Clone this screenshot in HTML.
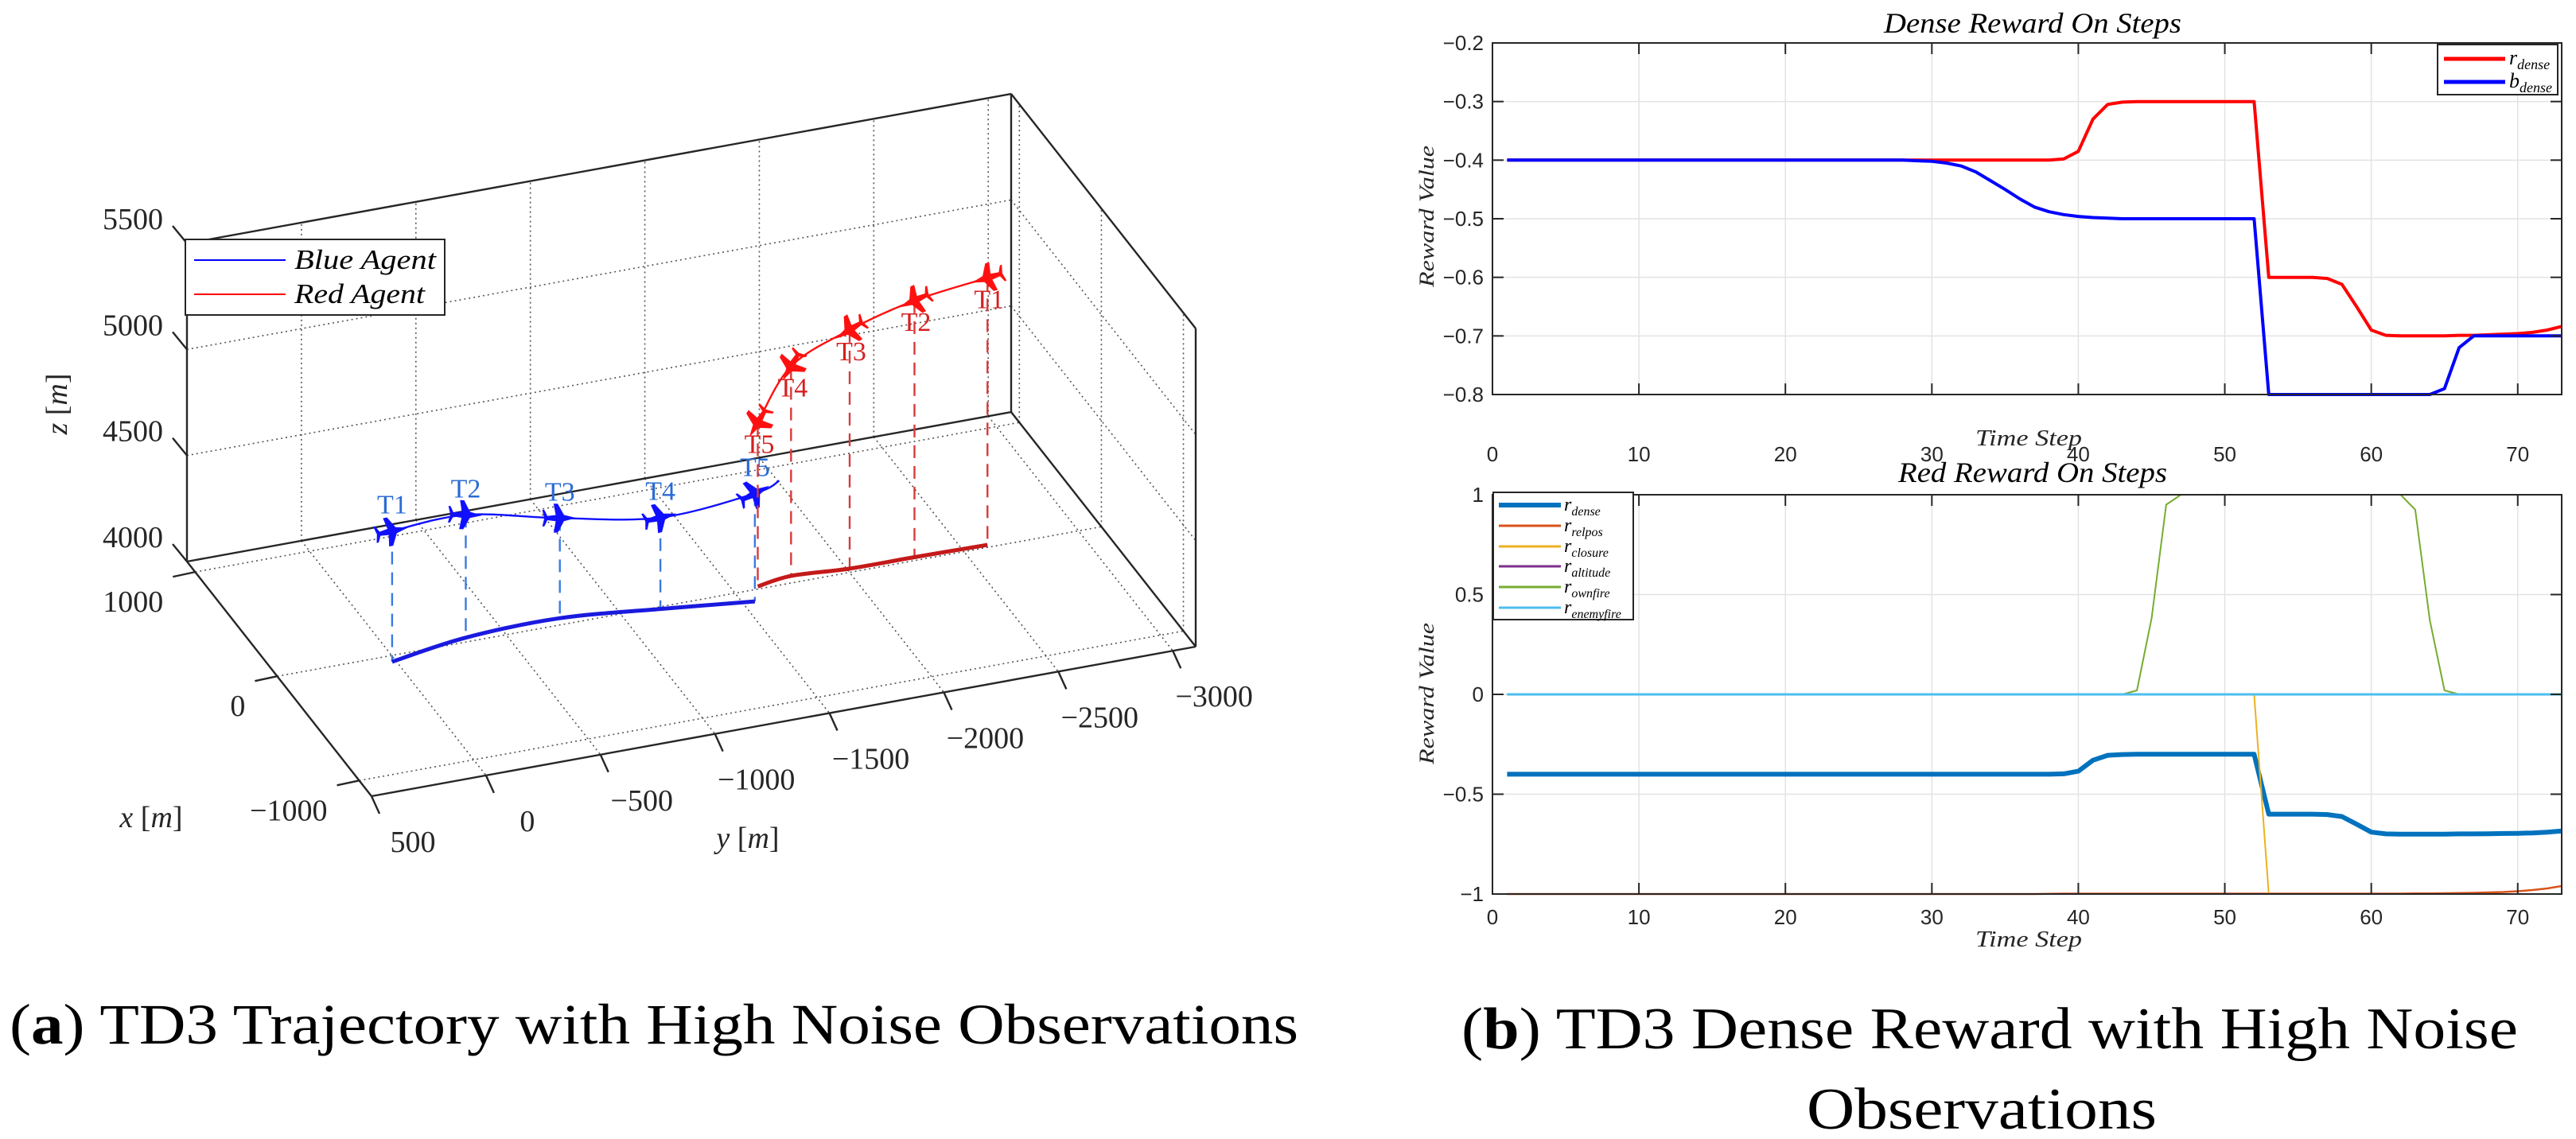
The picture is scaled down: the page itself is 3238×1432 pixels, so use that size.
<!DOCTYPE html>
<html><head><meta charset="utf-8">
<style>
html,body{margin:0;padding:0;background:#fff;}
svg{display:block;}
text{font-family:"Liberation Sans",sans-serif;}
.serif{font-family:"Liberation Serif",serif;}
.it{font-family:"Liberation Serif",serif;font-style:italic;}
</style></head>
<body>
<svg id="fig" xmlns="http://www.w3.org/2000/svg" width="3238" height="1432" viewBox="0 0 3238 1432">
<rect x="0" y="0" width="3238" height="1432" fill="#fff"/>
<g id="plot3d"></g>
<g id="topchart"></g>
<g id="botchart"></g>
<text class="serif" x="12" y="1312" font-size="72" textLength="1620" lengthAdjust="spacingAndGlyphs" fill="#000">(<tspan font-weight="bold">a</tspan>) TD3 Trajectory with High Noise Observations</text>
<text class="serif" x="1837" y="1318" font-size="74" textLength="1328" lengthAdjust="spacingAndGlyphs" fill="#000">(<tspan font-weight="bold">b</tspan>) TD3 Dense Reward with High Noise</text>
<text class="serif" x="2271" y="1419" font-size="74" textLength="440" lengthAdjust="spacingAndGlyphs" fill="#000">Observations</text>
</svg>
<script>
// ===== Data: 3D trajectory (meters) =====
const blueLabels = ['T1','T2','T3','T4','T5'];
const blueX = [-53, 37, 57, -19, -99];
const blueY = [17, -337, -755, -1167, -1551];
const blueZ = [4616, 4579, 4472, 4431, 4509];
const blueEndX = [-120];
const blueEndY = [-1650];
const blueEndZ = [4560];
const redLabels = ['T1','T2','T3','T4','T5'];
const redX = [21, 29, 32, 60, 22];
const redY = [-2610, -2294, -2012, -1766, -1607];
const redZ = [5259, 5210, 5125, 4988, 4772];
const zTicks = [4000, 4500, 5000, 5500];
const xTicks = [1000, 0, -1000];
const yTicks = [500, 0, -500, -1000, -1500, -2000, -2500, -3000];

// ===== Data: dense reward chart =====
const steps = [1,2,3,4,5,6,7,8,9,10,11,12,13,14,15,16,17,18,19,20,21,22,23,24,25,26,27,28,29,30,31,32,33,34,35,36,37,38,39,40,41,42,43,44,45,46,47,48,49,50,51,52,53,54,55,56,57,58,59,60,61,62,63,64,65,66,67,68,69,70,71,72,73];
const rDenseTop = [-0.4,-0.4,-0.4,-0.4,-0.4,-0.4,-0.4,-0.4,-0.4,-0.4,-0.4,-0.4,-0.4,-0.4,-0.4,-0.4,-0.4,-0.4,-0.4,-0.4,-0.4,-0.4,-0.4,-0.4,-0.4,-0.4,-0.4,-0.4,-0.4,-0.4,-0.4,-0.4,-0.4,-0.4,-0.4,-0.4,-0.4,-0.4,
 -0.398,-0.385,-0.33,-0.305,-0.301,
 -0.3,-0.3,-0.3,-0.3,-0.3,-0.3,-0.3,-0.3,-0.3,
 -0.6,-0.6,-0.6,-0.6,-0.602,-0.612,-0.65,-0.69,-0.699,-0.7,-0.7,-0.7,-0.7,-0.699,-0.699,-0.698,-0.697,-0.696,-0.694,-0.69,-0.684];
const bDenseTop = [-0.4,-0.4,-0.4,-0.4,-0.4,-0.4,-0.4,-0.4,-0.4,-0.4,-0.4,-0.4,-0.4,-0.4,-0.4,-0.4,-0.4,-0.4,-0.4,-0.4,-0.4,-0.4,-0.4,-0.4,-0.4,-0.4,-0.4,
 -0.4,-0.401,-0.402,-0.405,-0.41,-0.42,-0.435,-0.45,-0.466,-0.48,-0.488,-0.493,-0.496,-0.498,-0.499,
 -0.5,-0.5,-0.5,-0.5,-0.5,-0.5,-0.5,-0.5,-0.5,-0.5,
 -0.8,-0.8,-0.8,-0.8,-0.8,-0.8,-0.8,-0.8,-0.8,-0.8,-0.8,-0.8,
 -0.79,-0.72,-0.7,-0.7,-0.7,-0.7,-0.7,-0.7,-0.7];
const topYTicks = [-0.2,-0.3,-0.4,-0.5,-0.6,-0.7,-0.8];
const topYTickLabels = ['\u22120.2','\u22120.3','\u22120.4','\u22120.5','\u22120.6','\u22120.7','\u22120.8'];
const xTickVals = [0,10,20,30,40,50,60,70];

// ===== Data: red reward chart =====
const rDense = [-0.4,-0.4,-0.4,-0.4,-0.4,-0.4,-0.4,-0.4,-0.4,-0.4,-0.4,-0.4,-0.4,-0.4,-0.4,-0.4,-0.4,-0.4,-0.4,-0.4,-0.4,-0.4,-0.4,-0.4,-0.4,-0.4,-0.4,-0.4,-0.4,-0.4,-0.4,-0.4,-0.4,-0.4,-0.4,-0.4,-0.4,-0.4,
 -0.398,-0.385,-0.33,-0.305,-0.301,
 -0.3,-0.3,-0.3,-0.3,-0.3,-0.3,-0.3,-0.3,-0.3,
 -0.6,-0.6,-0.6,-0.6,-0.602,-0.612,-0.65,-0.69,-0.699,-0.7,-0.7,-0.7,-0.7,-0.699,-0.699,-0.698,-0.697,-0.696,-0.694,-0.69,-0.684];
const rRelpos = [-1,-1,-1,-1,-1,-1,-1,-1,-1,-1,-1,-1,-1,-1,-1,-1,-1,-1,-1,-1,-1,-1,-1,-1,-1,-1,-1,-1,-1,-1,-1,-1,-1,-1,-1,-1,-1,-0.999,-0.998,-0.998,-0.998,-0.998,-0.998,-0.998,-0.998,-0.998,-0.998,-0.998,-0.998,-0.998,-0.998,-0.998,-0.998,-0.998,-0.998,-0.998,-0.998,-0.998,-0.998,-0.998,
 -0.998,-0.998,-0.997,-0.997,-0.996,-0.995,-0.994,-0.992,-0.99,-0.986,-0.98,-0.972,-0.96];
const rClosure = [0,0,0,0,0,0,0,0,0,0,0,0,0,0,0,0,0,0,0,0,0,0,0,0,0,0,0,0,0,0,0,0,0,0,0,0,0,0,0,0,0,0,0,0,0,0,0,0,0,0,0,0,
 -1,-1,-1,-1,-1,-1,-1,-1,-1,-1,-1,-1,-1,-1,-1,-1,-1,-1,-1,-1,-1];
const rAltitude = [0,0,0,0,0,0,0,0,0,0,0,0,0,0,0,0,0,0,0,0,0,0,0,0,0,0,0,0,0,0,0,0,0,0,0,0,0,0,0,0,0,0,0,0,0,0,0,0,0,0,0,0,0,0,0,0,0,0,0,0,0,0,0,0,0,0,0,0,0,0,0,0,0];
const rOwnfire = [0,0,0,0,0,0,0,0,0,0,0,0,0,0,0,0,0,0,0,0,0,0,0,0,0,0,0,0,0,0,0,0,0,0,0,0,0,0,0,0,0,0,0,
 0.02,0.38,0.95,
 1,1,1,1,1,1,1,1,1,1,1,1,1,1,1,1,
 0.925,0.37,0.02,
 0,0,0,0,0,0,0,0];
const rEnemyfire = [0,0,0,0,0,0,0,0,0,0,0,0,0,0,0,0,0,0,0,0,0,0,0,0,0,0,0,0,0,0,0,0,0,0,0,0,0,0,0,0,0,0,0,0,0,0,0,0,0,0,0,0,0,0,0,0,0,0,0,0,0,0,0,0,0,0,0,0,0,0,0,0,0];
const botYTicks = [-1,-0.5,0,0.5,1];
const botYTickLabels = ['\u22121','\u22120.5','0','0.5','1'];

const NS = 'http://www.w3.org/2000/svg';
function mk(tag, attrs, parent){ const e=document.createElementNS(NS,tag); for(const k in attrs) e.setAttribute(k,attrs[k]); parent.appendChild(e); return e; }

// ================= 3D plot =================
(function(){
  const g = document.getElementById('plot3d');
  const O=[235,706], U=[232,295], V=[1036,-188], W=[0,-400];
  const XB=1100, XF=-1150, YL=500, YR=-3100, Z0=4000, Z1=5500;
  function P(x,y,z){
    const a=(XB-x)/(XB-XF), b=(YL-y)/(YL-YR), c=(z-Z0)/(Z1-Z0);
    return [O[0]+a*U[0]+b*V[0]+c*W[0], O[1]+a*U[1]+b*V[1]+c*W[1]];
  }
  function seg(p,q,attrs,name){
    const l=mk('line',Object.assign({x1:p[0],y1:p[1],x2:q[0],y2:q[1]},attrs),g);
    
    
    return l;
  }
  const dot={stroke:'#555','stroke-width':1.6,'stroke-dasharray':'2 4'};
  // back wall grid
  yTicks.forEach(y=>{ seg(P(XB,y,Z0),P(XB,y,Z1),dot,'back-wall-grid-line'); });
  zTicks.forEach(z=>{ seg(P(XB,YL,z),P(XB,YR,z),dot,'back-wall-grid-line'); });
  // side wall grid
  xTicks.forEach(x=>{ seg(P(x,YR,Z0),P(x,YR,Z1),dot,'side-wall-grid-line'); });
  zTicks.forEach(z=>{ seg(P(XB,YR,z),P(XF,YR,z),dot,'side-wall-grid-line'); });
  // floor grid
  xTicks.forEach(x=>{ seg(P(x,YL,Z0),P(x,YR,Z0),dot,'floor-grid-line'); });
  yTicks.forEach(y=>{ seg(P(XB,y,Z0),P(XF,y,Z0),dot,'floor-grid-line'); });
  // box edges
  const solid={stroke:'#262626','stroke-width':2.4};
  seg(P(XB,YL,Z0),P(XB,YL,Z1),solid,'z-axis-line');
  seg(P(XB,YL,Z1),P(XB,YR,Z1),solid,'box-edge');
  seg(P(XB,YR,Z1),P(XB,YR,Z0),solid,'box-edge');
  seg(P(XB,YR,Z1),P(XF,YR,Z1),solid,'box-edge');
  seg(P(XF,YR,Z1),P(XF,YR,Z0),solid,'box-edge');
  seg(P(XB,YL,Z0),P(XB,YR,Z0),solid,'box-edge');
  seg(P(XB,YR,Z0),P(XF,YR,Z0),solid,'box-edge');
  seg(P(XB,YL,Z0),P(XF,YL,Z0),solid,'x-axis-line');
  seg(P(XF,YL,Z0),P(XF,YR,Z0),solid,'y-axis-line');
  // ticks & labels
  zTicks.forEach(z=>{
    const p=P(XB,YL,z);
    seg(p,[p[0]-18,p[1]-22],solid,'z-tick');
    const t=mk('text',{x:p[0]-30,y:p[1]-18,'text-anchor':'end','font-size':38,fill:'#262626',class:'serif'},g);
    t.textContent=String(z);
    
    
  });
  xTicks.forEach(x=>{
    const p=P(x,YL,Z0);
    seg(p,[p[0]-28,p[1]+6],solid,'x-tick');
    const t=mk('text',{x:p[0]-40,y:p[1]+50,'text-anchor':'end','font-size':38,fill:'#262626',class:'serif'},g);
    t.textContent=(x<0?'\u2212':'')+Math.abs(x);
    
    
  });
  yTicks.forEach(y=>{
    const p=P(XF,y,Z0);
    seg(p,[p[0]+10,p[1]+22],solid,'y-tick');
    const t=mk('text',{x:p[0]+52,y:p[1]+70,'text-anchor':'middle','font-size':38,fill:'#262626',class:'serif'},g);
    t.textContent=(y<0?'\u2212':'')+Math.abs(y);
    
    
  });
  let t;
  t=mk('text',{x:0,y:0,'font-size':38,fill:'#262626',class:'serif',transform:'translate(84,508) rotate(-90)','text-anchor':'middle'},g);
  t.innerHTML='<tspan font-style="italic">z</tspan> [<tspan font-style="italic">m</tspan>]';
   
  t=mk('text',{x:190,y:1040,'font-size':38,fill:'#262626',class:'serif','text-anchor':'middle'},g);
  t.innerHTML='<tspan font-style="italic">x</tspan> [<tspan font-style="italic">m</tspan>]';
   
  t=mk('text',{x:940,y:1066,'font-size':38,fill:'#262626',class:'serif','text-anchor':'middle'},g);
  t.innerHTML='<tspan font-style="italic">y</tspan> [<tspan font-style="italic">m</tspan>]';
   

  function smoothPath(pts){
    let d='M'+pts[0][0]+','+pts[0][1];
    for(let i=0;i<pts.length-1;i++){
      const p0=pts[Math.max(0,i-1)],p1=pts[i],p2=pts[i+1],p3=pts[Math.min(pts.length-1,i+2)];
      const c1=[p1[0]+(p2[0]-p0[0])/6,p1[1]+(p2[1]-p0[1])/6];
      const c2=[p2[0]-(p3[0]-p1[0])/6,p2[1]-(p3[1]-p1[1])/6];
      d+=' C'+c1[0]+','+c1[1]+' '+c2[0]+','+c2[1]+' '+p2[0]+','+p2[1];
    }
    return d;
  }
  function jet(p,ang,color,scale){
    const s=scale;
    const pts=[[16,0],[4,-3],[-2,-14],[-6,-14],[-4,-3],[-12,-2],[-15,-8],[-17,-8],[-15,0],[-17,8],[-15,8],[-12,2],[-4,3],[-6,14],[-2,14],[4,3]];
    const ca=Math.cos(ang),sa=Math.sin(ang);
    const str=pts.map(q=>[(p[0]+s*(q[0]*ca-q[1]*sa)).toFixed(1),(p[1]+s*(q[0]*sa+q[1]*ca)).toFixed(1)].join(',')).join(' ');
    const e=mk('polygon',{points:str,fill:color},g);
    
    
  }
  // Blue agent
  const bAir=blueX.map((x,i)=>P(x,blueY[i],blueZ[i]));
  const bGnd=blueX.map((x,i)=>P(x,blueY[i],Z0));
  const bEnd=P(blueEndX[0],blueEndY[0],blueEndZ[0]);
  bAir.forEach((p,i)=>{ seg(p,bGnd[i],{stroke:'#3b7be0','stroke-width':2.4,'stroke-dasharray':'16 10'},'blue-drop-line'); });
  let e=mk('path',{d:smoothPath(bGnd),fill:'none',stroke:'#1a1adf','stroke-width':5},g);
   
  e=mk('path',{d:smoothPath(bAir.concat([bEnd])),fill:'none',stroke:'#1010ff','stroke-width':2.4},g);
   
  bAir.forEach((p,i)=>{
    const q=i<bAir.length-1?bAir[i+1]:bEnd;
    jet(p,Math.atan2(q[1]-p[1],q[0]-p[0]),'#1010ff',1.3);
    const tl=mk('text',{x:p[0],y:p[1]-22,'text-anchor':'middle','font-size':34,fill:'#2a6bd6',class:'serif'},g);
    tl.textContent=blueLabels[i];
    
    
  });
  // Red agent
  const rAir=redX.map((x,i)=>P(x,redY[i],redZ[i]));
  const rGnd=redX.map((x,i)=>P(x,redY[i],Z0));
  rAir.forEach((p,i)=>{ seg(p,rGnd[i],{stroke:'#d83a3a','stroke-width':2.4,'stroke-dasharray':'16 10'},'red-drop-line'); });
  e=mk('path',{d:smoothPath(rGnd),fill:'none',stroke:'#c41a1a','stroke-width':5},g);
   
  e=mk('path',{d:smoothPath(rAir),fill:'none',stroke:'#ff1010','stroke-width':2.4},g);
   
  rAir.forEach((p,i)=>{
    const q=i<rAir.length-1?rAir[i+1]:[p[0]+(p[0]-rAir[i-1][0]),p[1]+(p[1]-rAir[i-1][1])];
    jet(p,Math.atan2(q[1]-p[1],q[0]-p[0]),'#ff1010',1.3);
    const tl=mk('text',{x:p[0]+2,y:p[1]+38,'text-anchor':'middle','font-size':34,fill:'#d42020',class:'serif'},g);
    tl.textContent=redLabels[i];
    
    
  });
  // legend
  const lg=mk('g',{},g);
   
  mk('rect',{x:233,y:301,width:326,height:95,fill:'#fff',stroke:'#262626','stroke-width':2},lg);
  let l=mk('line',{x1:244,y1:327,x2:359,y2:327,stroke:'#0000ff','stroke-width':2},lg);
   
  l=mk('line',{x1:244,y1:370,x2:359,y2:370,stroke:'#ff0000','stroke-width':2},lg);
   
  t=mk('text',{x:370,y:338,'font-size':35,fill:'#000',class:'it',textLength:178,lengthAdjust:'spacingAndGlyphs'},lg);
  t.textContent='Blue Agent';  
  t=mk('text',{x:370,y:381,'font-size':35,fill:'#000',class:'it',textLength:164,lengthAdjust:'spacingAndGlyphs'},lg);
  t.textContent='Red Agent';  
})();

// ================= 2D charts =================
function chart(g, cfg){
  const L=1876, R=3220, T=cfg.top, B=cfg.bottom, xmin=0, xmax=73;
  const xs=v=>L+(v-xmin)/(xmax-xmin)*(R-L);
  const ys=v=>T+(cfg.ymax-v)/(cfg.ymax-cfg.ymin)*(B-T);
  const clipId=cfg.id+'clip';
  const defs=mk('defs',{},g);
  const cp=mk('clipPath',{id:clipId},defs);
  mk('rect',{x:L,y:T-4,width:R-L,height:B-T+8},cp);
  // grid
  xTickVals.forEach(v=>{
    const l=mk('line',{x1:xs(v),y1:T,x2:xs(v),y2:B,stroke:'#e3e3e3','stroke-width':1.5},g);
     
  });
  cfg.yt.forEach(v=>{
    const l=mk('line',{x1:L,y1:ys(v),x2:R,y2:ys(v),stroke:'#e3e3e3','stroke-width':1.5},g);
     
  });
  // series
  cfg.series.forEach(s=>{
    const d=s.vals.map((v,i)=>(i?'L':'M')+xs(steps[i]).toFixed(1)+','+ys(v).toFixed(1)).join(' ');
    const p=mk('path',{d:d,fill:'none',stroke:s.color,'stroke-width':s.w,'stroke-linejoin':'round','clip-path':'url(#'+clipId+')'},g);
    
    
  });
  // box
  const bx=mk('rect',{x:L,y:T,width:R-L,height:B-T,fill:'none',stroke:'#262626','stroke-width':2},g);
   
  // ticks
  xTickVals.forEach(v=>{
    mk('line',{x1:xs(v),y1:B,x2:xs(v),y2:B-14,stroke:'#262626','stroke-width':2},g);
    mk('line',{x1:xs(v),y1:T,x2:xs(v),y2:T+14,stroke:'#262626','stroke-width':2},g);
    const t=mk('text',{x:xs(v),y:cfg.xlabY,'text-anchor':'middle','font-size':26,fill:'#262626'},g);
    t.textContent=String(v);
     
  });
  cfg.yt.forEach((v,i)=>{
    mk('line',{x1:L,y1:ys(v),x2:L+14,y2:ys(v),stroke:'#262626','stroke-width':2},g);
    mk('line',{x1:R,y1:ys(v),x2:R-14,y2:ys(v),stroke:'#262626','stroke-width':2},g);
    const t=mk('text',{x:1865,y:ys(v)+9,'text-anchor':'end','font-size':26,fill:'#262626'},g);
    t.textContent=cfg.ytl[i];
     
  });
  let t=mk('text',{x:2555,y:cfg.titleY,'text-anchor':'middle','font-size':36,fill:'#000',class:'it',textLength:cfg.titleW,lengthAdjust:'spacingAndGlyphs'},g);
  t.textContent=cfg.title;  
  t=mk('text',{x:2550,y:cfg.xtitleY,'text-anchor':'middle','font-size':28,fill:'#262626',class:'it',textLength:134,lengthAdjust:'spacingAndGlyphs'},g);
  t.textContent='Time  Step';  
  t=mk('text',{x:0,y:0,'text-anchor':'middle','font-size':26,fill:'#262626',class:'it',textLength:178,lengthAdjust:'spacingAndGlyphs',transform:'translate(1802,'+cfg.ytitleY+') rotate(-90)'},g);
  t.textContent='Reward  Value';  
  // legend
  const lg=mk('g',{},g);
   
  const lb=cfg.legend;
  mk('rect',{x:lb.x,y:lb.y,width:lb.w,height:lb.h,fill:'#fff',stroke:'#262626','stroke-width':2},lg);
  cfg.series.forEach((s,i)=>{
    const yy=lb.rows[i];
    const l=mk('line',{x1:lb.lx1,y1:yy,x2:lb.lx2,y2:yy,stroke:s.color,'stroke-width':s.lw},lg);
     
    const tx=mk('text',{x:lb.tx,y:yy+7,'font-size':lb.fs,fill:'#000',class:'it'},lg);
    tx.innerHTML=s.sym+'<tspan font-size="'+Math.round(lb.fs*0.68)+'" dy="6">'+s.sub+'</tspan>';
     
  });
}

chart(document.getElementById('topchart'),{
  id:'top', top:54, bottom:496, ymin:-0.8, ymax:-0.2, yt:topYTicks, ytl:topYTickLabels,
  xlabY:580, xtitleY:560, titleY:41, titleW:374, title:'Dense Reward On Steps', ytitleY:272,
  legend:{x:3064,y:56,w:151,h:63,rows:[74,103],lx1:3072,lx2:3149,tx:3154,fs:26},
  series:[
    {name:'r-dense-line',vals:rDenseTop,color:'#ff0000',w:4,lw:5,sym:'r',sub:'dense'},
    {name:'b-dense-line',vals:bDenseTop,color:'#0000ff',w:4,lw:5,sym:'b',sub:'dense'}
  ]
});
chart(document.getElementById('botchart'),{
  id:'bot', top:622, bottom:1124, ymin:-1, ymax:1, yt:botYTicks, ytl:botYTickLabels,
  xlabY:1162, xtitleY:1190, titleY:606, titleW:338, title:'Red Reward On Steps', ytitleY:872,
  legend:{x:1877,y:619,w:176,h:160,rows:[635,661,687,712,738,764],lx1:1884,lx2:1962,tx:1966,fs:24},
  series:[
    {name:'r-dense-line',vals:rDense,color:'#0072BD',w:6,lw:6,sym:'r',sub:'dense'},
    {name:'r-relpos-line',vals:rRelpos,color:'#D95319',w:2.5,lw:3,sym:'r',sub:'relpos'},
    {name:'r-closure-line',vals:rClosure,color:'#EDB120',w:2,lw:3,sym:'r',sub:'closure'},
    {name:'r-altitude-line',vals:rAltitude,color:'#7E2F8E',w:2,lw:3,sym:'r',sub:'altitude'},
    {name:'r-ownfire-line',vals:rOwnfire,color:'#77AC30',w:2,lw:3,sym:'r',sub:'ownfire'},
    {name:'r-enemyfire-line',vals:rEnemyfire,color:'#4DBEEE',w:3,lw:3,sym:'r',sub:'enemyfire'}
  ]
});
</script>
</body></html>
